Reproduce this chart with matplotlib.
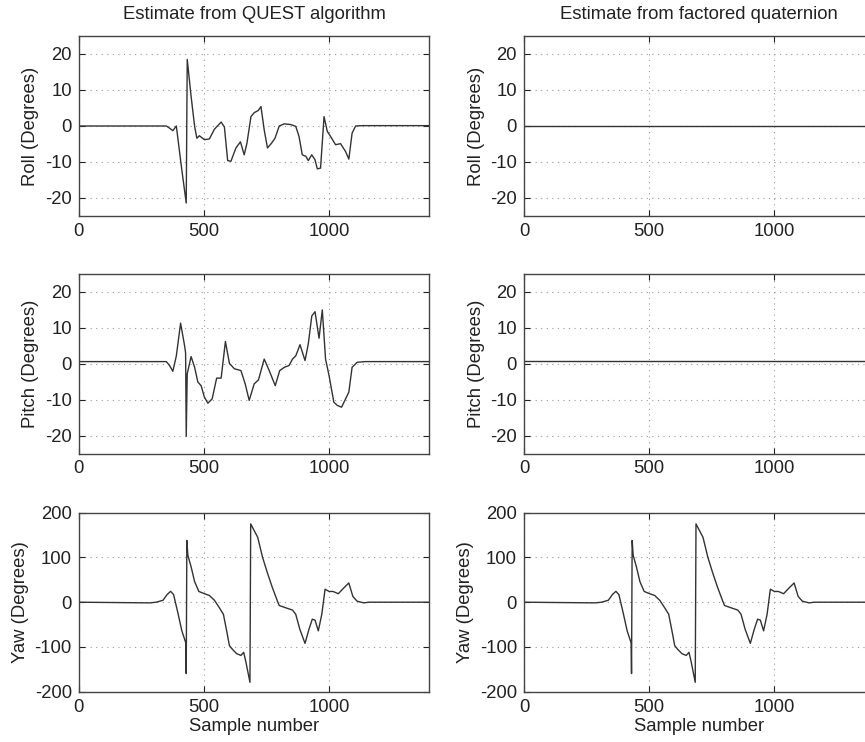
import matplotlib
matplotlib.use("Agg")
import matplotlib.pyplot as plt

plt.rcParams['font.family'] = ['Liberation Sans', 'DejaVu Sans']
plt.rcParams['axes.unicode_minus'] = False

# ---- data ----
roll_x = [0, 323, 350, 363, 376, 390, 410, 429.5, 433.5, 449, 463, 472, 482, 502, 522, 542,
          569, 582, 595, 608, 628, 646, 661, 672, 688, 701, 717, 728, 741, 754, 770, 784,
          801, 821, 847, 867, 880, 893, 907, 917, 931, 944, 953, 966, 980, 993, 1006,
          1026, 1046, 1066, 1079, 1092, 1106, 1132, 1400]
roll_y = [0, 0, 0, -0.6, -1.3, 0, -11.2, -21.4, 18.5, 8.2, -0.1, -3.4, -2.7, -3.8, -3.6, -0.9,
          1.1, -0.3, -9.6, -9.8, -6.1, -4.4, -8.0, -4.8, 2.6, 3.7, 4.3, 5.4, -1.1, -6.1, -4.8, -3.4,
          0, 0.6, 0.4, -0.1, -2.9, -8.0, -8.4, -9.6, -8.0, -9.4, -11.9, -11.7, 2.6, -1.5, -2.9,
          -5.2, -4.9, -7.1, -9.2, -2.0, 0, 0.1, 0.1]

pitch_x = [0, 323, 350, 363, 376, 390, 407, 423, 427, 429.5, 433.5, 449, 463, 476, 489, 502, 516,
           533, 551, 569, 586, 602, 622, 648, 665, 681, 701, 718, 741, 761, 785, 803, 821,
           840, 854, 867, 884, 904, 917, 931, 944, 960, 973, 986, 1000, 1019, 1033, 1050,
           1066, 1079, 1092, 1112, 1145, 1400]
pitch_y = [0.6, 0.6, 0.6, -0.5, -2.1, 2.2, 11.3, 5.0, 3.0, -20.2, -2.8, 2.0, -1.0, -5.1, -6.1, -9.3, -11.0,
           -9.8, -4.0, -4.0, 6.2, 0.1, -1.4, -1.9, -5.6, -10.2, -5.6, -4.5, 1.3, -1.9, -6.1, -1.9, -1.0,
           -0.5, 1.3, 2.2, 5.3, 0.9, 5.5, 13.3, 14.5, 7.1, 15.0, 1.3, -3.3, -10.7, -11.6, -12.1,
           -9.8, -7.9, -1.0, 0.4, 0.6, 0.6]

yaw_x = [0, 284, 310, 337, 353, 367, 379, 396, 412, 425, 428, 429.5, 432, 436, 449, 463, 480,
         502, 522, 542, 562, 578, 591, 602, 615, 631, 648, 659, 668, 684, 687, 701, 715,
         734, 754, 774, 794, 801, 827, 854, 867, 883, 904, 920, 933, 944, 957, 971, 984,
         1000, 1016, 1037, 1059, 1079, 1095, 1112, 1139, 1159, 1400]
yaw_y = [0, -1.5, 0, 4.4, 17, 24.3, 17, -23.5, -64, -86, -92, -159.5, 138, 105, 79, 46, 24,
         19, 15, 4.4, -12.5, -27, -64, -97, -106, -115, -119, -112, -134, -179, 175, 160, 145,
         101, 65, 32, 2.2, -7.4, -12.5, -17.6, -27, -60, -92, -60, -38, -40, -64, -27, 29,
         24, 24, 19, 32, 43, 13, 2.2, -1.5, 0, 0]

flat_x = [0, 1400]
roll_fq = [0.1, 0.1]
pitch_fq = [0.9, 0.9]

titles = ["Estimate from QUEST algorithm", "Estimate from factored quaternion"]
ylabels = ["Roll (Degrees)", "Pitch (Degrees)", "Yaw (Degrees)"]
xticks = [0, 500, 1000]
angle_ticks = [-20, -10, 0, 10, 20]
yaw_ticks = [-200, -100, 0, 100, 200]

# ---- layout ----
W, H = 865, 742
fig = plt.figure(figsize=(W / 100, H / 100), dpi=100)

col_left = [78.7, 524.0]
col_width = 350.5
rows = [(36.0, 216.0), (274.0, 453.5), (512.7, 691.7)]

series = [
    [(roll_x, roll_y), (flat_x, roll_fq)],
    [(pitch_x, pitch_y), (flat_x, pitch_fq)],
    [(yaw_x, yaw_y), (yaw_x, yaw_y)],
]

line_col = '#333333'
fs = 13.3
txt = '#222222'

for r, (top, bot) in enumerate(rows):
    for c in range(2):
        ax = fig.add_axes([col_left[c] / W, 1 - bot / H, col_width / W, (bot - top) / H])
        xs, ys = series[r][c]
        ax.plot(xs, ys, color=line_col, lw=1.0)
        ax.set_xlim(0, 1400)
        if r < 2:
            ax.set_ylim(-25, 25)
            ax.set_yticks(angle_ticks)
        else:
            ax.set_ylim(-200, 200)
            ax.set_yticks(yaw_ticks)
        ax.set_xticks(xticks)
        ax.grid(True, color='#9a9a9a', linestyle=(0, (1, 4)), linewidth=0.8)
        ax.tick_params(direction='in', length=4, width=0.8, top=True, right=True,
                       labelsize=fs, colors=txt, pad=5)
        for s in ax.spines.values():
            s.set_color('#444444')
            s.set_linewidth(1.0)
        ax.set_ylabel(ylabels[r], fontsize=fs, color=txt, labelpad=4)
        if r == 0:
            ax.set_title(titles[c], fontsize=fs, color=txt, pad=12)
        if r == 2:
            ax.set_xlabel("Sample number", fontsize=fs, color=txt, labelpad=2)

fig.savefig("out.png", dpi=100)
